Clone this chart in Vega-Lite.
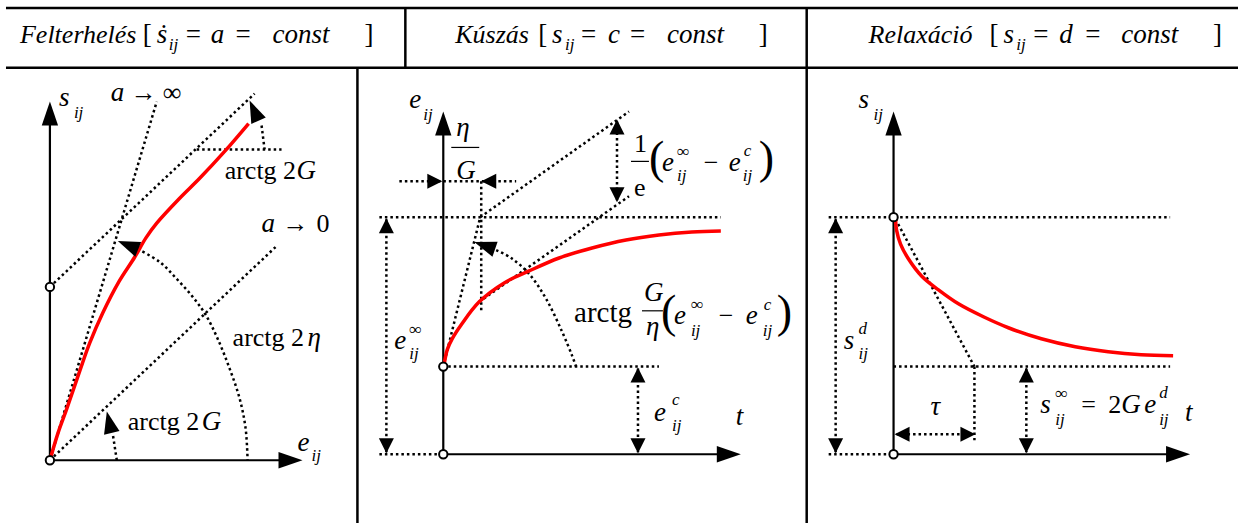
{
  "$schema": "https://vega.github.io/schema/vega-lite/v6.json",
  "width": 1240,
  "height": 525,
  "autosize": {"type": "fit", "contains": "padding"},
  "padding": 0,
  "background": "white",
  "config": {"view": {"stroke": null}, "text": {"font": "Liberation Serif", "color": "black", "align": "left", "baseline": "alphabetic"}},
  "datasets": {
    "frame": [
      {"x": 6, "y": 8, "x2": 1240, "y2": 8},
      {"x": 6, "y": 68, "x2": 1240, "y2": 68},
      {"x": 406, "y": 8, "x2": 406, "y2": 68},
      {"x": 808, "y": 8, "x2": 808, "y2": 525},
      {"x": 358, "y": 68, "x2": 358, "y2": 525}
    ],
    "axes": [
      {"x": 50, "y": 462, "x2": 50, "y2": 112},
      {"x": 50, "y": 462, "x2": 292, "y2": 462},
      {"x": 444, "y": 456, "x2": 444, "y2": 122},
      {"x": 444, "y": 456, "x2": 732, "y2": 456},
      {"x": 895, "y": 456, "x2": 895, "y2": 122},
      {"x": 895, "y": 456, "x2": 1182, "y2": 456}
    ],
    "bars": [
      {"x": 452, "y": 148, "x2": 480, "y2": 148},
      {"x": 632, "y": 162, "x2": 650, "y2": 162},
      {"x": 643, "y": 312, "x2": 664, "y2": 312}
    ],
    "dots": [
      {"id": "d1", "k": 0, "x": 50, "y": 462}, {"id": "d1", "k": 1, "x": 157, "y": 102},
      {"id": "d2", "k": 0, "x": 50, "y": 288}, {"id": "d2", "k": 1, "x": 255, "y": 94},
      {"id": "d3", "k": 0, "x": 50, "y": 462}, {"id": "d3", "k": 1, "x": 276, "y": 248},
      {"id": "d4", "k": 0, "x": 197, "y": 150}, {"id": "d4", "k": 1, "x": 282, "y": 150},
      {"id": "d5", "k": 0, "x": 262, "y": 126}, {"id": "d5", "k": 1, "x": 265, "y": 150},
      {"id": "d6", "k": 0, "x": 117, "y": 462}, {"id": "d6", "k": 1, "x": 113, "y": 436},
      {"id": "d7", "k": 0, "x": 400, "y": 182}, {"id": "d7", "k": 1, "x": 517, "y": 182},
      {"id": "d8", "k": 0, "x": 482, "y": 182}, {"id": "d8", "k": 1, "x": 482, "y": 312},
      {"id": "d9", "k": 0, "x": 380, "y": 218}, {"id": "d9", "k": 1, "x": 722, "y": 218},
      {"id": "d10", "k": 0, "x": 444, "y": 368}, {"id": "d10", "k": 1, "x": 481, "y": 218}, {"id": "d10", "k": 2, "x": 630, "y": 112},
      {"id": "d11", "k": 0, "x": 480, "y": 303}, {"id": "d11", "k": 1, "x": 630, "y": 197},
      {"id": "d12", "k": 0, "x": 618, "y": 122}, {"id": "d12", "k": 1, "x": 618, "y": 201},
      {"id": "d13", "k": 0, "x": 449, "y": 368}, {"id": "d13", "k": 1, "x": 660, "y": 368},
      {"id": "d14", "k": 0, "x": 387, "y": 220}, {"id": "d14", "k": 1, "x": 387, "y": 454},
      {"id": "d15", "k": 0, "x": 380, "y": 456}, {"id": "d15", "k": 1, "x": 440, "y": 456},
      {"id": "d16", "k": 0, "x": 639, "y": 370}, {"id": "d16", "k": 1, "x": 639, "y": 454},
      {"id": "d17", "k": 0, "x": 830, "y": 218}, {"id": "d17", "k": 1, "x": 1172, "y": 218},
      {"id": "d18", "k": 0, "x": 897, "y": 220}, {"id": "d18", "k": 1, "x": 976, "y": 368},
      {"id": "d19", "k": 0, "x": 895, "y": 368}, {"id": "d19", "k": 1, "x": 1172, "y": 368},
      {"id": "d20", "k": 0, "x": 976, "y": 368}, {"id": "d20", "k": 1, "x": 976, "y": 442},
      {"id": "d21", "k": 0, "x": 898, "y": 436}, {"id": "d21", "k": 1, "x": 975, "y": 436},
      {"id": "d22", "k": 0, "x": 1028, "y": 370}, {"id": "d22", "k": 1, "x": 1028, "y": 454},
      {"id": "d23", "k": 0, "x": 837, "y": 220}, {"id": "d23", "k": 1, "x": 837, "y": 454},
      {"id": "d24", "k": 0, "x": 830, "y": 456}, {"id": "d24", "k": 1, "x": 890, "y": 456}
    ],
    "arcs": [
      {"id": "a1", "k": 0, "x": 138, "y": 250}, {"id": "a1", "k": 1, "x": 160, "y": 263},
      {"id": "a1", "k": 2, "x": 177, "y": 280}, {"id": "a1", "k": 3, "x": 193, "y": 298},
      {"id": "a1", "k": 4, "x": 206, "y": 316}, {"id": "a1", "k": 5, "x": 218, "y": 340},
      {"id": "a1", "k": 6, "x": 230, "y": 370}, {"id": "a1", "k": 7, "x": 240, "y": 400},
      {"id": "a1", "k": 8, "x": 246, "y": 430}, {"id": "a1", "k": 9, "x": 248, "y": 462},
      {"id": "a2", "k": 0, "x": 497, "y": 251}, {"id": "a2", "k": 1, "x": 512, "y": 259},
      {"id": "a2", "k": 2, "x": 530, "y": 275}, {"id": "a2", "k": 3, "x": 547, "y": 300},
      {"id": "a2", "k": 4, "x": 563, "y": 333}, {"id": "a2", "k": 5, "x": 573, "y": 357},
      {"id": "a2", "k": 6, "x": 577, "y": 368}
    ],
    "curves": [
      {"id": "loading", "k": 0, "x": 50, "y": 462}, {"id": "loading", "k": 1, "x": 58, "y": 435},
      {"id": "loading", "k": 2, "x": 67, "y": 410}, {"id": "loading", "k": 3, "x": 80, "y": 372},
      {"id": "loading", "k": 4, "x": 90, "y": 344}, {"id": "loading", "k": 5, "x": 103, "y": 314},
      {"id": "loading", "k": 6, "x": 119, "y": 283}, {"id": "loading", "k": 7, "x": 135, "y": 258},
      {"id": "loading", "k": 8, "x": 146, "y": 239}, {"id": "loading", "k": 9, "x": 157, "y": 224},
      {"id": "loading", "k": 10, "x": 180, "y": 199}, {"id": "loading", "k": 11, "x": 200, "y": 179},
      {"id": "loading", "k": 12, "x": 225, "y": 152}, {"id": "loading", "k": 13, "x": 249, "y": 124},
      {"id": "creep", "k": 0, "x": 445, "y": 365}, {"id": "creep", "k": 1, "x": 448, "y": 351},
      {"id": "creep", "k": 2, "x": 453, "y": 340}, {"id": "creep", "k": 3, "x": 462, "y": 326},
      {"id": "creep", "k": 4, "x": 480, "y": 303}, {"id": "creep", "k": 5, "x": 505, "y": 284},
      {"id": "creep", "k": 6, "x": 530, "y": 272}, {"id": "creep", "k": 7, "x": 560, "y": 259},
      {"id": "creep", "k": 8, "x": 593, "y": 249}, {"id": "creep", "k": 9, "x": 627, "y": 241},
      {"id": "creep", "k": 10, "x": 660, "y": 236}, {"id": "creep", "k": 11, "x": 693, "y": 233},
      {"id": "creep", "k": 12, "x": 722, "y": 232},
      {"id": "relax", "k": 0, "x": 897, "y": 220}, {"id": "relax", "k": 1, "x": 898, "y": 231},
      {"id": "relax", "k": 2, "x": 902, "y": 245}, {"id": "relax", "k": 3, "x": 910, "y": 260},
      {"id": "relax", "k": 4, "x": 923, "y": 277}, {"id": "relax", "k": 5, "x": 940, "y": 291},
      {"id": "relax", "k": 6, "x": 960, "y": 305}, {"id": "relax", "k": 7, "x": 985, "y": 318},
      {"id": "relax", "k": 8, "x": 1010, "y": 329}, {"id": "relax", "k": 9, "x": 1043, "y": 340},
      {"id": "relax", "k": 10, "x": 1077, "y": 348}, {"id": "relax", "k": 11, "x": 1110, "y": 353},
      {"id": "relax", "k": 12, "x": 1143, "y": 356}, {"id": "relax", "k": 13, "x": 1175, "y": 357}
    ],
    "heads": [
      {"kind": "axis", "x": 50, "y": 102, "dir": 0},
      {"kind": "axis", "x": 303, "y": 462, "dir": 90},
      {"kind": "axis", "x": 444, "y": 112, "dir": 0},
      {"kind": "axis", "x": 742, "y": 456, "dir": 90},
      {"kind": "axis", "x": 895, "y": 112, "dir": 0},
      {"kind": "axis", "x": 1192, "y": 456, "dir": 90},
      {"kind": "arc", "x": 118, "y": 242, "dir": 292},
      {"kind": "arc", "x": 250, "y": 101, "dir": 336},
      {"kind": "arc", "x": 107, "y": 413, "dir": 347},
      {"kind": "arc", "x": 475, "y": 243, "dir": 289},
      {"kind": "dim", "x": 443, "y": 182, "dir": 90},
      {"kind": "dim", "x": 482, "y": 182, "dir": 270},
      {"kind": "dim", "x": 618, "y": 120, "dir": 0},
      {"kind": "dim", "x": 618, "y": 203, "dir": 180},
      {"kind": "dim", "x": 387, "y": 219, "dir": 0},
      {"kind": "dim", "x": 387, "y": 455, "dir": 180},
      {"kind": "dim", "x": 639, "y": 369, "dir": 0},
      {"kind": "dim", "x": 639, "y": 455, "dir": 180},
      {"kind": "dim", "x": 837, "y": 219, "dir": 0},
      {"kind": "dim", "x": 837, "y": 455, "dir": 180},
      {"kind": "dim", "x": 896, "y": 436, "dir": 270},
      {"kind": "dim", "x": 977, "y": 436, "dir": 90},
      {"kind": "dim", "x": 1028, "y": 369, "dir": 0},
      {"kind": "dim", "x": 1028, "y": 455, "dir": 180}
    ],
    "rings": [
      {"x": 50, "y": 462}, {"x": 50, "y": 288},
      {"x": 444, "y": 456}, {"x": 444, "y": 368},
      {"x": 895, "y": 218}, {"x": 895, "y": 456}
    ],
    "headWords": [
      {"x": 20, "y": 43, "t": "Felterhelés"},
      {"x": 456, "y": 43, "t": "Kúszás"},
      {"x": 870, "y": 43, "t": "Relaxáció"}
    ],
    "headItalic": [
      {"x": 157, "y": 43, "t": "ṡ"},
      {"x": 211, "y": 43, "t": "a"},
      {"x": 273, "y": 43, "t": "const"},
      {"x": 553, "y": 43, "t": "s"},
      {"x": 609, "y": 43, "t": "c"},
      {"x": 668, "y": 43, "t": "const"},
      {"x": 1005, "y": 43, "t": "s"},
      {"x": 1061, "y": 43, "t": "d"},
      {"x": 1123, "y": 43, "t": "const"}
    ],
    "headUpright": [
      {"x": 143, "y": 43, "t": "["},
      {"x": 186, "y": 43, "t": "="},
      {"x": 236, "y": 43, "t": "="},
      {"x": 365, "y": 43, "t": "]"},
      {"x": 539, "y": 43, "t": "["},
      {"x": 582, "y": 43, "t": "="},
      {"x": 631, "y": 43, "t": "="},
      {"x": 760, "y": 43, "t": "]"},
      {"x": 991, "y": 43, "t": "["},
      {"x": 1035, "y": 43, "t": "="},
      {"x": 1087, "y": 43, "t": "="},
      {"x": 1215, "y": 43, "t": "]"}
    ],
    "headSub": [
      {"x": 169, "y": 50, "t": "ij"},
      {"x": 566, "y": 50, "t": "ij"},
      {"x": 1018, "y": 50, "t": "ij"}
    ],
    "mathItalic": [
      {"x": 59, "y": 106, "t": "s"},
      {"x": 111, "y": 101, "t": "a"},
      {"x": 262, "y": 233, "t": "a"},
      {"x": 297, "y": 180, "t": "G"},
      {"x": 308, "y": 347, "t": "η"},
      {"x": 202, "y": 432, "t": "G"},
      {"x": 298, "y": 453, "t": "e"},
      {"x": 410, "y": 108, "t": "e"},
      {"x": 457, "y": 137, "t": "η"},
      {"x": 457, "y": 180, "t": "G"},
      {"x": 663, "y": 172, "t": "e"},
      {"x": 730, "y": 172, "t": "e"},
      {"x": 645, "y": 302, "t": "G"},
      {"x": 647, "y": 336, "t": "η"},
      {"x": 675, "y": 325, "t": "e"},
      {"x": 747, "y": 325, "t": "e"},
      {"x": 395, "y": 350, "t": "e"},
      {"x": 655, "y": 423, "t": "e"},
      {"x": 737, "y": 427, "t": "t"},
      {"x": 860, "y": 108, "t": "s"},
      {"x": 932, "y": 417, "t": "τ"},
      {"x": 1042, "y": 415, "t": "s"},
      {"x": 1123, "y": 415, "t": "G"},
      {"x": 1146, "y": 415, "t": "e"},
      {"x": 1187, "y": 423, "t": "t"},
      {"x": 845, "y": 350, "t": "s"}
    ],
    "mathSmall": [
      {"x": 74, "y": 118, "t": "ij"},
      {"x": 312, "y": 463, "t": "ij"},
      {"x": 424, "y": 120, "t": "ij"},
      {"x": 678, "y": 158, "t": "∞"},
      {"x": 678, "y": 182, "t": "ij"},
      {"x": 745, "y": 157, "t": "c"},
      {"x": 744, "y": 182, "t": "ij"},
      {"x": 692, "y": 311, "t": "∞"},
      {"x": 692, "y": 337, "t": "ij"},
      {"x": 765, "y": 311, "t": "c"},
      {"x": 764, "y": 337, "t": "ij"},
      {"x": 410, "y": 336, "t": "∞"},
      {"x": 410, "y": 360, "t": "ij"},
      {"x": 673, "y": 407, "t": "c"},
      {"x": 673, "y": 433, "t": "ij"},
      {"x": 875, "y": 120, "t": "ij"},
      {"x": 1057, "y": 401, "t": "∞"},
      {"x": 1057, "y": 427, "t": "ij"},
      {"x": 1161, "y": 400, "t": "d"},
      {"x": 1161, "y": 427, "t": "ij"},
      {"x": 860, "y": 335, "t": "d"},
      {"x": 860, "y": 360, "t": "ij"}
    ],
    "mathUpright": [
      {"x": 131, "y": 101, "t": "→"},
      {"x": 163, "y": 101, "t": "∞"},
      {"x": 225, "y": 180, "t": "arctg 2"},
      {"x": 283, "y": 233, "t": "→"},
      {"x": 317, "y": 233, "t": "0"},
      {"x": 233, "y": 347, "t": "arctg 2"},
      {"x": 128, "y": 432, "t": "arctg 2"},
      {"x": 635, "y": 153, "t": "1"},
      {"x": 635, "y": 197, "t": "e"},
      {"x": 705, "y": 172, "t": "−"},
      {"x": 720, "y": 325, "t": "−"},
      {"x": 1083, "y": 415, "t": "="},
      {"x": 1110, "y": 415, "t": "2"}
    ],
    "bigWords": [
      {"x": 575, "y": 323, "t": "arctg"}
    ],
    "parens": [
      {"x": 650, "y": 174, "t": "("},
      {"x": 760, "y": 174, "t": ")"},
      {"x": 662, "y": 328, "t": "("},
      {"x": 778, "y": 328, "t": ")"}
    ]
  },
  "encoding": {
    "x": {"field": "x", "type": "quantitative", "scale": {"domain": [0, 1240], "nice": false, "zero": false}, "axis": null},
    "y": {"field": "y", "type": "quantitative", "scale": {"domain": [0, 525], "nice": false, "zero": false, "reverse": true}, "axis": null}
  },
  "layer": [
    {
      "data": {"name": "frame"},
      "mark": {"type": "rule", "color": "black", "strokeWidth": 2.5},
      "encoding": {"x2": {"field": "x2"}, "y2": {"field": "y2"}}
    },
    {
      "data": {"name": "dots"},
      "mark": {"type": "line", "color": "black", "strokeWidth": 2.5, "strokeDash": [2.5, 3]},
      "encoding": {"detail": {"field": "id", "type": "nominal"}, "order": {"field": "k", "type": "quantitative"}}
    },
    {
      "data": {"name": "arcs"},
      "mark": {"type": "line", "color": "black", "strokeWidth": 2.5, "strokeDash": [2.5, 3], "interpolate": "catmull-rom"},
      "encoding": {"detail": {"field": "id", "type": "nominal"}, "order": {"field": "k", "type": "quantitative"}}
    },
    {
      "data": {"name": "axes"},
      "mark": {"type": "rule", "color": "black", "strokeWidth": 2.2},
      "encoding": {"x2": {"field": "x2"}, "y2": {"field": "y2"}}
    },
    {
      "data": {"name": "bars"},
      "mark": {"type": "rule", "color": "black", "strokeWidth": 1.2},
      "encoding": {"x2": {"field": "x2"}, "y2": {"field": "y2"}}
    },
    {
      "data": {"name": "curves"},
      "mark": {"type": "line", "color": "#ff0000", "strokeWidth": 3.5, "interpolate": "catmull-rom"},
      "encoding": {"detail": {"field": "id", "type": "nominal"}, "order": {"field": "k", "type": "quantitative"}}
    },
    {
      "data": {"name": "heads"},
      "transform": [{"filter": "datum.kind === 'axis'"}],
      "mark": {"type": "point", "shape": "M0,0L0.68,2L-0.68,2Z", "filled": true, "color": "black", "opacity": 1, "size": 576, "strokeWidth": 0},
      "encoding": {"angle": {"field": "dir", "type": "quantitative", "scale": null}}
    },
    {
      "data": {"name": "heads"},
      "transform": [{"filter": "datum.kind === 'arc'"}],
      "mark": {"type": "point", "shape": "M0,0L0.72,2L-0.72,2Z", "filled": true, "color": "black", "opacity": 1, "size": 484, "strokeWidth": 0},
      "encoding": {"angle": {"field": "dir", "type": "quantitative", "scale": null}}
    },
    {
      "data": {"name": "heads"},
      "transform": [{"filter": "datum.kind === 'dim'"}],
      "mark": {"type": "point", "shape": "M0,0L1,2L-1,2Z", "filled": true, "color": "black", "opacity": 1, "size": 225, "strokeWidth": 0},
      "encoding": {"angle": {"field": "dir", "type": "quantitative", "scale": null}}
    },
    {
      "data": {"name": "rings"},
      "mark": {"type": "point", "shape": "circle", "filled": true, "fill": "white", "stroke": "black", "strokeWidth": 2, "opacity": 1, "size": 70}
    },
    {
      "data": {"name": "headWords"},
      "mark": {"type": "text", "fontStyle": "italic", "fontSize": 26},
      "encoding": {"text": {"field": "t"}}
    },
    {
      "data": {"name": "headItalic"},
      "mark": {"type": "text", "fontStyle": "italic", "fontSize": 27},
      "encoding": {"text": {"field": "t"}}
    },
    {
      "data": {"name": "headUpright"},
      "mark": {"type": "text", "fontSize": 27},
      "encoding": {"text": {"field": "t"}}
    },
    {
      "data": {"name": "headSub"},
      "mark": {"type": "text", "fontStyle": "italic", "fontSize": 17},
      "encoding": {"text": {"field": "t"}}
    },
    {
      "data": {"name": "mathItalic"},
      "mark": {"type": "text", "fontStyle": "italic", "fontSize": 27},
      "encoding": {"text": {"field": "t"}}
    },
    {
      "data": {"name": "mathSmall"},
      "mark": {"type": "text", "fontStyle": "italic", "fontSize": 17},
      "encoding": {"text": {"field": "t"}}
    },
    {
      "data": {"name": "mathUpright"},
      "mark": {"type": "text", "fontSize": 26},
      "encoding": {"text": {"field": "t"}}
    },
    {
      "data": {"name": "bigWords"},
      "mark": {"type": "text", "fontSize": 29},
      "encoding": {"text": {"field": "t"}}
    },
    {
      "data": {"name": "parens"},
      "mark": {"type": "text", "fontSize": 46},
      "encoding": {"text": {"field": "t"}}
    }
  ]
}
